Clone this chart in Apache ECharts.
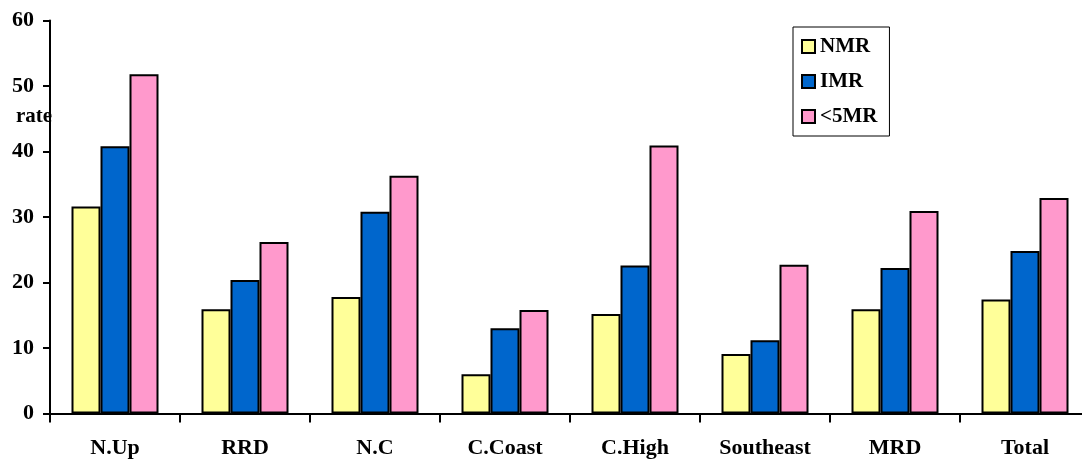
<!DOCTYPE html>
<html>
<head>
<meta charset="utf-8">
<script src="https://cdn.jsdelivr.net/npm/echarts@6/dist/echarts.min.js"></script>
<style>html,body{margin:0;padding:0;background:#fff;overflow:hidden;width:1082px;height:461px;}#c{width:1090px;height:461px;}</style>
</head>
<body>
<div id="c"></div>
<script>
const categories = ['N.Up', 'RRD', 'N.C', 'C.Coast', 'C.High', 'Southeast', 'MRD', 'Total'];
const nmr = [31.6, 15.9, 17.8, 6.0, 15.2, 9.1, 15.9, 17.4];
const imr = [40.8, 20.4, 30.8, 13.0, 22.6, 11.2, 22.2, 24.8];
const u5mr = [51.8, 26.2, 36.3, 15.8, 40.9, 22.7, 30.9, 32.9];
const seriesNames = ['NMR', 'IMR', '<5MR'];
const yTicks = [0, 10, 20, 30, 40, 50, 60];

const FONT = '"Liberation Serif", "Times New Roman", serif';
const chart = echarts.init(document.getElementById('c'), null, {renderer: 'canvas'});
const mkSeries = (name, data, color) => ({
  name, type: 'bar', data, barWidth: 29, barGap: '0%',
  itemStyle: {color, borderColor: '#000', borderWidth: 2},
  emphasis: {disabled: true}
});
chart.setOption({
  animation: false,
  backgroundColor: '#fff',
  grid: {left: 50, right: 0, top: 20.5, bottom: 47.5, containLabel: false},
  legend: {
    left: 793, top: 27, orient: 'vertical',
    icon: 'rect', itemWidth: 13, itemHeight: 13, itemGap: 14,
    padding: [9, 12, 9, 8],
    borderColor: '#000', borderWidth: 1,
    textStyle: {fontFamily: FONT, fontWeight: 'bold', fontSize: 21, color: '#000', lineHeight: 21},
    itemStyle: {borderColor: '#000', borderWidth: 2},
    data: seriesNames
  },
  xAxis: {
    type: 'category', data: categories,
    axisLine: {lineStyle: {color: '#000', width: 2}},
    axisTick: {show: true, length: 9, lineStyle: {color: '#000', width: 2}},
    axisLabel: {fontFamily: FONT, fontWeight: 'bold', fontSize: 22, color: '#000', margin: 24}
  },
  yAxis: {
    type: 'value', min: yTicks[0], max: yTicks[yTicks.length - 1], interval: 10,
    axisLine: {show: true, lineStyle: {color: '#000', width: 2}},
    axisTick: {show: true, length: 7, lineStyle: {color: '#000', width: 2}},
    splitLine: {show: false},
    axisLabel: {fontFamily: FONT, fontWeight: 'bold', fontSize: 22, color: '#000', margin: 16}
  },
  graphic: [{
    type: 'text', left: 16, top: 106, z: 100,
    style: {text: 'rate', fontFamily: FONT, fontWeight: 'bold', fontSize: 21, fill: '#000'}
  }],
  series: [
    mkSeries(seriesNames[0], nmr, '#FFFF99'),
    mkSeries(seriesNames[1], imr, '#0066CC'),
    mkSeries(seriesNames[2], u5mr, '#FF99CC')
  ]
});
</script>
</body>
</html>
